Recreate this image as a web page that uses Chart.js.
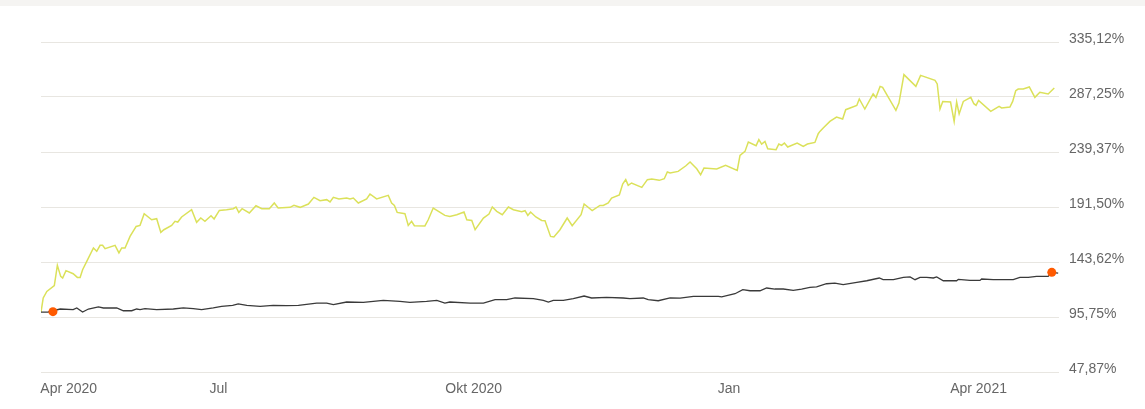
<!DOCTYPE html>
<html>
<head>
<meta charset="utf-8">
<script src="https://cdn.jsdelivr.net/npm/chart.js@4.4.1/dist/chart.umd.min.js"></script>
<style>
  html, body { margin: 0; padding: 0; background: #fff; }
  #wrap { position: relative; width: 1145px; height: 409px; }
  #band { position: absolute; left: 0; top: 0; width: 1145px; height: 6px; background: #f5f4f2; }
  canvas { position: absolute; left: 0; top: 0; }
</style>
</head>
<body>
<div id="wrap">
  <canvas id="chart" width="1145" height="409"></canvas>
  <div id="band"></div>
</div>
<script>
// x = days since 2020-04-28, y = performance in %
const fund = [
  [0,100],[0.8,112.3],[2.1,118.0],[4.8,123.0],[5.9,140.7],[7.1,131.1],[7.8,129.7],[9.0,136.1],
  [11.6,133.4],[13.1,130.2],[14.1,130.2],[15.0,136.9],[16.5,144.1],[18.9,155.8],[20.1,152.9],
  [21.3,158.1],[22.2,158.1],[23.1,155.2],[26.7,158.1],[28.1,151.5],[29.1,155.8],[30.3,155.8],
  [32.1,165.9],[34.3,174.6],[35.7,175.5],[37.2,185.7],[39.9,180.4],[41.7,181.3],[43.2,169.4],
  [44.3,171.7],[47.1,175.5],[48.3,179.0],[49.3,178.4],[50.7,182.8],[54.3,189.1],[56.1,178.1],
  [57.6,181.9],[59.1,179.0],[61.3,183.9],[62.4,181.1],[64.3,188.5],[66.9,189.1],[69.3,190.0],
  [70.3,191.5],[71.3,186.8],[72.5,190.0],[75.1,186.3],[77.5,192.6],[79.6,190.0],[82.3,190.0],
  [84.1,195.0],[85.5,190.6],[89.8,191.2],[91.2,192.9],[93.4,191.2],[96.4,194.1],[98.4,199.9],
  [100.6,197.0],[103.0,197.9],[104.2,195.9],[105.4,199.9],[107.4,198.5],[110.2,199.3],[111.4,198.5],
  [112.6,199.3],[114.4,195.0],[117.4,198.5],[118.6,202.8],[121.0,198.5],[125.2,201.6],[126.4,195.0],
  [127.4,192.9],[128.4,186.8],[131.2,185.7],[132.4,175.5],[133.6,179.0],[134.6,175.2],[138.4,175.0],
  [139.6,180.4],[141.4,190.6],[145.6,184.2],[147.4,183.3],[149.9,184.8],[152.5,187.1],[153.5,180.4],
  [155.3,179.8],[156.5,171.7],[159.5,181.9],[161.5,185.4],[162.7,191.5],[164.3,187.7],[166.3,184.8],
  [168.5,191.5],[170.3,189.1],[173.3,187.4],[174.5,188.3],[175.5,184.2],[176.5,187.1],[178.4,182.8],
  [180.5,179.8],[181.7,179.6],[183.7,165.9],[184.9,165.4],[187.1,171.7],[189.7,181.9],[191.5,175.2],
  [194.7,184.8],[195.8,194.1],[198.7,188.3],[201.5,192.9],[202.7,192.9],[204.5,195.0],[205.7,199.3],
  [208.5,201.9],[209.7,211.5],[210.8,215.3],[211.7,210.3],[212.9,212.4],[216.6,208.6],[218.6,215.3],
  [220.2,215.9],[222.9,214.7],[224.7,216.1],[225.8,222.0],[226.8,221.1],[229.7,222.5],[232.5,227.4],
  [234.0,230.7],[236.4,224.8],[237.8,219.6],[239.0,225.4],[243.6,224.6],[246.8,227.7],[251.0,223.4],
  [252.0,236.4],[253.8,239.9],[255.0,248.1],[257.8,244.9],[258.8,250.1],[259.8,246.3],[261.0,248.6],
  [262.0,242.2],[265.0,241.4],[266.0,246.3],[267.0,245.1],[268.0,247.2],[269.2,243.7],[272.6,247.2],
  [274.8,244.2],[276.3,246.3],[279.0,247.7],[280.2,255.3],[280.8,257.3],[282.0,260.3],[284.4,266.0],
  [286.8,269.8],[289.0,268.1],[290.1,276.2],[294.1,279.9],[295.0,285.5],[297.0,276.8],[300.0,289.9],
  [301.0,286.9],[302.5,296.5],[303.4,295.6],[308.2,275.6],[309.3,282.0],[311.1,306.7],[315.4,296.5],
  [317.1,306.1],[322.3,301.7],[323.1,298.6],[324.1,276.8],[325.1,283.4],[327.9,282.9],[329.2,266.0],
  [330.1,282.9],[331.0,272.5],[332.5,283.4],[335.2,286.9],[336.3,281.4],[337.1,279.9],[338.0,284.3],
  [342.4,274.7],[345.4,279.1],[346.3,277.7],[349.3,278.5],[350.3,283.4],[351.4,292.7],[352.3,294.2],
  [354.1,294.2],[356.3,296.0],[358.3,286.9],[360.1,291.3],[363.1,289.9],[365.3,295.1]
];

const benchmark = [
  [0,100],[2.6,100.1],[6.9,102.7],[11.6,102.1],[12.9,103.6],[15.0,100.1],[17.1,102.7],[20.7,104.5],
  [22.5,103.6],[27.3,103.6],[29.7,101.2],[32.7,101.2],[34.5,102.7],[35.7,102.1],[37.5,103.0],
  [41.7,102.1],[47.7,102.7],[51.3,103.6],[54.9,103.0],[57.9,102.1],[62.1,103.6],[65.1,105.0],
  [69.1,105.8],[71.1,107.1],[74.2,105.8],[79.0,105.0],[83.7,105.8],[88.6,105.6],[92.8,105.8],
  [99.4,107.9],[103.0,107.9],[105.4,106.5],[110.2,108.8],[116.2,108.5],[123.4,110.2],[129.4,109.3],
  [133.0,108.5],[139.0,109.3],[142.7,110.2],[145.6,107.9],[147.4,108.8],[154.7,107.9],[159.5,107.9],
  [163.7,110.8],[167.9,110.8],[170.9,112.3],[177.5,111.7],[181.1,110.2],[182.9,108.8],[184.7,110.2],
  [188.3,110.2],[191.9,111.7],[195.8,114.0],[198.5,112.3],[203.9,112.8],[209.9,112.3],[212.3,111.7],
  [217.1,112.3],[218.9,110.8],[222.5,109.9],[226.8,112.3],[230.4,112.1],[235.2,113.7],[244.2,113.7],
  [245.4,113.2],[250.2,116.0],[253.0,119.5],[255.6,118.6],[259.2,118.6],[261.6,121.0],[264.6,120.1],
  [267.6,120.1],[271.2,118.9],[274.2,120.1],[277.2,121.5],[279.6,121.9],[283.2,124.7],[286.2,125.3],
  [289.2,123.9],[294.1,125.9],[297.7,127.3],[302.2,129.7],[303.6,128.2],[307.3,128.2],[310.9,130.2],
  [313.3,130.6],[315.1,128.2],[316.9,130.2],[319.3,130.2],[321.7,129.7],[322.9,130.6],[325.3,127.3],
  [330.1,127.3],[330.7,128.5],[334.9,127.6],[338.5,127.6],[339.1,128.8],[343.3,128.2],[346.3,128.2],
  [350.5,128.2],[352.9,130.2],[355.9,130.2],[358.9,131.1],[363.1,131.1],[364.4,134.6],[366.7,134.0]
];

const markers = [[4.3, 100.4], [364.4, 134.6]];

const xTickDays = [10, 64, 156, 248, 338];
const xTickLabels = ["Apr 2020", "Jul", "Okt 2020", "Jan", "Apr 2021"];

const yTickValues = [47.87, 95.745, 143.62, 191.495, 239.37, 287.245, 335.12];
const yTickLabels = ["47,87%", "95,75%", "143,62%", "191,50%", "239,37%", "287,25%", "335,12%"];

const toPoints = (rows) => rows.map(([x, y]) => ({ x, y }));

Chart.defaults.font.family = "'Liberation Sans', Arial, sans-serif";
Chart.defaults.font.size = 14;
Chart.defaults.color = "#666";

new Chart(document.getElementById("chart"), {
  type: "line",
  data: {
    datasets: [
      {
        label: "markers",
        data: toPoints(markers),
        showLine: false,
        pointRadius: 4.5,
        pointBackgroundColor: "#ff5a00",
        pointBorderWidth: 0,
      },
      {
        label: "benchmark",
        data: toPoints(benchmark),
        borderColor: "#3a3a3a",
        borderWidth: 1.3,
        pointRadius: 0,
      },
      {
        label: "fund",
        data: toPoints(fund),
        borderColor: "#dbe15a",
        borderWidth: 1.5,
        pointRadius: 0,
      },
    ],
  },
  options: {
    responsive: false,
    animation: false,
    layout: { padding: { left: 41, top: 42, right: 0, bottom: 0 } },
    plugins: { legend: { display: false }, tooltip: { enabled: false } },
    scales: {
      x: {
        type: "linear",
        min: 0,
        max: 367,
        grid: { display: false },
        border: { display: false },
        ticks: {
          autoSkip: false,
          maxRotation: 0,
          padding: 1,
          callback: (v, i) => xTickLabels[i],
        },
        afterBuildTicks: (s) => {
          s.ticks = xTickDays.map((v) => ({ value: v }));
        },
        afterFit: (s) => {
          s.height = 37;
          s.paddingLeft = 0;
          s.paddingRight = 0;
        },
      },
      y: {
        position: "right",
        min: 47.87,
        max: 335.12,
        grid: { color: "#e8e6e1", drawTicks: false },
        border: { display: false },
        ticks: {
          padding: 10,
          labelOffset: -3,
          callback: (v, i) => yTickLabels[i],
        },
        afterBuildTicks: (s) => {
          s.ticks = yTickValues.map((v) => ({ value: v }));
        },
        afterFit: (s) => {
          s.width = 86;
          s.paddingTop = 0;
          s.paddingBottom = 0;
        },
      },
    },
  },
});
</script>
</body>
</html>
